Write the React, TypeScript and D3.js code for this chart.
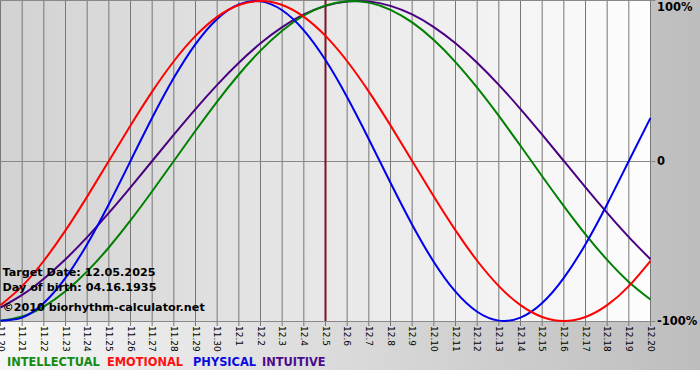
import React from "react";
import * as d3 from "d3";

const dayLabels = [
  "11.20", "11.21", "11.22", "11.23", "11.24", "11.25", "11.26", "11.27", "11.28", "11.29", "11.30",
  "12.1", "12.2", "12.3", "12.4", "12.5", "12.6", "12.7", "12.8", "12.9", "12.10",
  "12.11", "12.12", "12.13", "12.14", "12.15", "12.16", "12.17", "12.18", "12.19", "12.20",
];

const intellectual = [
  -0.9989, -0.9718, -0.9096, -0.8146, -0.6901, -0.5406, -0.3717, -0.1893, 0, 0.1893, 0.3717,
  0.5406, 0.6901, 0.8146, 0.9096, 0.9718, 0.9989, 0.9898, 0.945, 0.866, 0.7557,
  0.6182, 0.4582, 0.2817, 0.0951, -0.0951, -0.2817, -0.4582, -0.6182, -0.7557, -0.866,
];
const emotional = [
  -0.901, -0.7818, -0.6235, -0.4339, -0.2225, 0, 0.2225, 0.4339, 0.6235, 0.7818, 0.901,
  0.9749, 1, 0.9749, 0.901, 0.7818, 0.6235, 0.4339, 0.2225, 0, -0.2225,
  -0.4339, -0.6235, -0.7818, -0.901, -0.9749, -1, -0.9749, -0.901, -0.7818, -0.6235,
];
const physical = [
  -0.9977, -0.9791, -0.8879, -0.7308, -0.5196, -0.2698, 0, 0.2698, 0.5196, 0.7308, 0.8879,
  0.9791, 0.9977, 0.9423, 0.817, 0.631, 0.3984, 0.1362, -0.1362, -0.3984, -0.631,
  -0.817, -0.9423, -0.9977, -0.9791, -0.8879, -0.7308, -0.5196, -0.2698, 0, 0.2698,
];
const intuitive = [
  -0.9158, -0.8372, -0.7357, -0.6142, -0.4759, -0.3247, -0.1646, 0, 0.1646, 0.3247, 0.4759,
  0.6142, 0.7357, 0.8372, 0.9158, 0.9694, 0.9966, 0.9966, 0.9694, 0.9158, 0.8372,
  0.7357, 0.6142, 0.4759, 0.3247, 0.1646, 0, -0.1646, -0.3247, -0.4759, -0.6142,
];

const targetIndex = 15;
const yTicks = [1, 0, -1];
const yTickLabels = ["100%", "0", "-100%"];
const infoLines = ["Target Date: 12.05.2025", "Day of birth: 04.16.1935", "©2010 biorhythm-calculator.net"];
const legendNames = ["INTELLECTUAL", "EMOTIONAL", "PHYSICAL", "INTUITIVE"];

const W = 700;
const H = 380;
const FONT = "'DejaVu Sans', Verdana, sans-serif";

export default function App() {
  const x = d3.scaleLinear().domain([0, dayLabels.length - 1]).range([0.5, 650.5]);
  const y = d3.scaleLinear().domain([-1, 1]).range([321, 1]);

  const line = d3
    .line<number>()
    .x((_, i) => x(i))
    .y((d) => y(d))
    .curve(d3.curveNatural);

  const series = [
    { name: legendNames[0], data: intellectual, color: "#008000", legend: "#138a13" },
    { name: legendNames[1], data: emotional, color: "#ff0000", legend: "#ff1010" },
    { name: legendNames[2], data: physical, color: "#0000ee", legend: "#0a0ae0" },
    { name: legendNames[3], data: intuitive, color: "#4b0082", legend: "#4b0c8c" },
  ];
  const drawOrder = [3, 0, 2, 1];
  const legendX = [7, 107, 193, 262];

  const plotLeft = x(0) - 0.5;
  const plotRight = x(dayLabels.length - 1);

  return (
    <svg width={W} height={H} style={{ position: "absolute", left: 0, top: 0 }} fontFamily={FONT}>
      <defs>
        <linearGradient id="outerGrad" x1="0" y1="0" x2="1" y2="0">
          <stop offset="0%" stopColor="#f6f6f6" />
          <stop offset="100%" stopColor="#bdbdbd" />
        </linearGradient>
        <linearGradient id="plotGrad" x1="0" y1="0" x2="1" y2="0">
          <stop offset="0%" stopColor="#d2d2d2" />
          <stop offset="100%" stopColor="#fdfdfd" />
        </linearGradient>
        <clipPath id="plotClip">
          <rect x={plotLeft} y={0} width={plotRight - plotLeft + 1} height={322} />
        </clipPath>
      </defs>
      <rect x={0} y={0} width={W} height={H} fill="#ffffff" />
      <rect x={0} y={0} width={W} height={370} fill="url(#outerGrad)" />
      <rect x={plotLeft} y={0} width={plotRight - plotLeft} height={321} fill="url(#plotGrad)" />

      {dayLabels.map((_, i) => (
        <line
          key={"v" + i}
          x1={x(i)}
          x2={x(i)}
          y1={0}
          y2={326}
          stroke="#777777"
          strokeWidth={1}
        />
      ))}
      {yTicks.map((t, i) => (
        <line
          key={"h" + i}
          x1={plotLeft}
          x2={plotRight + 5}
          y1={Math.round(y(t)) + 0.5 - (t === 1 ? 1 : 0)}
          y2={Math.round(y(t)) + 0.5 - (t === 1 ? 1 : 0)}
          stroke="#888888"
          strokeWidth={1}
        />
      ))}

      <line
        x1={x(targetIndex)}
        x2={x(targetIndex)}
        y1={0}
        y2={321}
        stroke="#7a1424"
        strokeWidth={2}
      />

      <g clipPath="url(#plotClip)">
        {drawOrder.map((k) => (
          <path
            key={series[k].name}
            d={line(series[k].data) || ""}
            fill="none"
            stroke={series[k].color}
            strokeWidth={2}
          />
        ))}
      </g>

      {infoLines.map((t, i) => (
        <text
          key={"info" + i}
          x={2.5}
          y={[276, 291, 311][i]}
          fontSize={11.2}
          fontWeight="bold"
          fill="#000"
        >
          {t}
        </text>
      ))}

      {dayLabels.map((lab, i) => (
        <text
          key={"xl" + i}
          transform={`translate(${x(i)},${326}) rotate(90)`}
          fontSize={9}
          dominantBaseline="central"
          textAnchor="start"
          fill="#000"
        >
          {lab}
        </text>
      ))}

      {yTicks.map((t, i) => (
        <text
          key={"yl" + i}
          x={657}
          y={y(t) + (t === 1 ? 6 : 0)}
          fontSize={11.5}
          fontWeight="bold"
          dominantBaseline="central"
          fill="#000"
        >
          {yTickLabels[i]}
        </text>
      ))}

      {series.map((s, i) => (
        <text key={"lg" + i} x={legendX[i]} y={366} fontSize={11.4} fontWeight="bold" fill={s.legend}>
          {s.name}
        </text>
      ))}
    </svg>
  );
}
